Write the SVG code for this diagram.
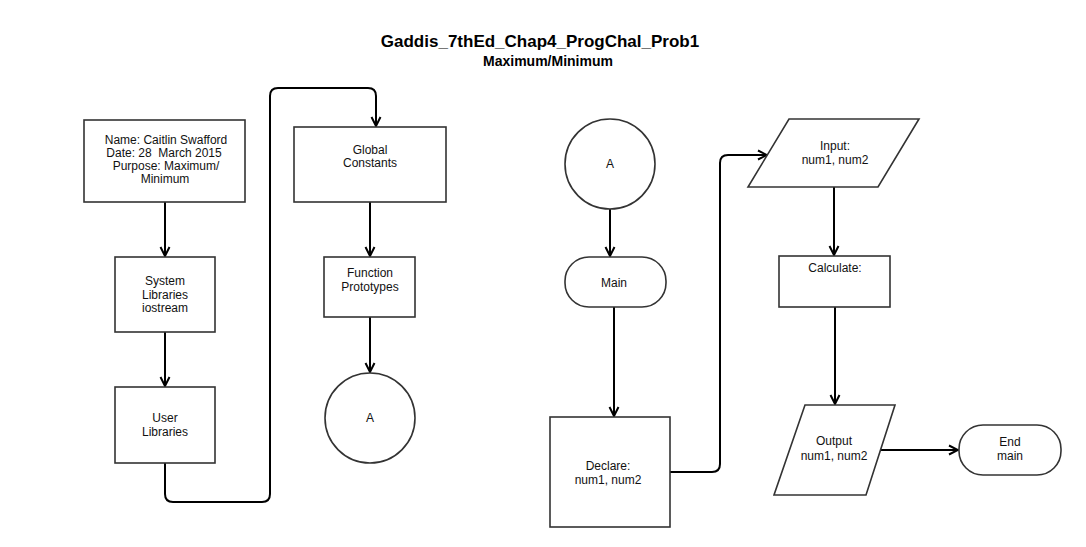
<svg xmlns="http://www.w3.org/2000/svg" width="1086" height="547" viewBox="0 0 1086 547">
<style>
.shape{fill:#fff;stroke:#333;stroke-width:1.6}
.conn{fill:none;stroke:#000;stroke-width:2}
text{font-family:"Liberation Sans",Arial,sans-serif;font-size:12px;fill:#111;text-anchor:middle;white-space:pre}
.title{font-size:17px;font-weight:bold;fill:#000}
.sub{font-size:14px;font-weight:bold;fill:#000}
</style>
<defs>
<marker id="arr" viewBox="0 0 12 12" refX="11" refY="6" markerWidth="12" markerHeight="12" markerUnits="userSpaceOnUse" orient="auto">
<path d="M2,1.5 L11,6 L2,10.5" fill="none" stroke="#000" stroke-width="2"/>
</marker>
</defs>
<rect width="1086" height="547" fill="#fff"/>
<g id="title">
<text class="title" x="540" y="47">Gaddis_7thEd_Chap4_ProgChal_Prob1</text>
<text class="sub" x="548" y="66">Maximum/Minimum</text>
</g>
<g id="connectors">
<path class="conn" d="M165,202 L165,256" marker-end="url(#arr)"/>
<path class="conn" d="M165,332 L165,386" marker-end="url(#arr)"/>
<path class="conn" d="M165,463 L165,494 Q165,502 173,502 L262,502 Q270,502 270,494 L270,96 Q270,88 278,88 L368,88 Q376,88 376,96 L376,126" marker-end="url(#arr)"/>
<path class="conn" d="M370,202 L370,256" marker-end="url(#arr)"/>
<path class="conn" d="M370,317 L370,372" marker-end="url(#arr)"/>
<path class="conn" d="M610,209 L610,256" marker-end="url(#arr)"/>
<path class="conn" d="M614,307 L614,416" marker-end="url(#arr)"/>
<path class="conn" d="M670,472 L712,472 Q720,472 720,464 L720,163 Q720,155 728,155 L767,155" marker-end="url(#arr)"/>
<path class="conn" d="M834,187 L834,255" marker-end="url(#arr)"/>
<path class="conn" d="M835,307 L835,404" marker-end="url(#arr)"/>
<path class="conn" d="M880,450 L958,450" marker-end="url(#arr)"/>
</g>
<g id="header">
<rect class="shape" x="84" y="120" width="161" height="82"/>
<text x="166" y="144">Name: Caitlin Swafford</text>
<text x="164" y="157">Date: 28  March 2015</text>
<text x="166" y="170">Purpose: Maximum/</text>
<text x="165" y="183">Minimum</text>
</g>
<g id="system-libraries">
<rect class="shape" x="115" y="257" width="100" height="75"/>
<text x="165" y="285">System</text>
<text x="165" y="299">Libraries</text>
<text x="165" y="312">iostream</text>
</g>
<g id="user-libraries">
<rect class="shape" x="115" y="387" width="100" height="76"/>
<text x="165" y="422">User</text>
<text x="165" y="436">Libraries</text>
</g>
<g id="global-constants">
<rect class="shape" x="294" y="127" width="152" height="75"/>
<text x="370" y="154">Global</text>
<text x="370" y="167">Constants</text>
</g>
<g id="function-prototypes">
<rect class="shape" x="324" y="257" width="91" height="60"/>
<text x="370" y="277">Function</text>
<text x="370" y="291">Prototypes</text>
</g>
<g id="connector-a-out">
<circle class="shape" cx="370" cy="418" r="45"/>
<text x="370" y="422">A</text>
</g>
<g id="connector-a-in">
<circle class="shape" cx="610" cy="164" r="45"/>
<text x="610" y="168">A</text>
</g>
<g id="main">
<rect class="shape" x="565" y="257" width="101" height="50" rx="24" ry="24"/>
<text x="614" y="287">Main</text>
</g>
<g id="declare">
<rect class="shape" x="550" y="417" width="120" height="110"/>
<text x="608" y="470">Declare:</text>
<text x="608" y="484">num1, num2</text>
</g>
<g id="input">
<polygon class="shape" points="789,119 919,119 878,187 748,187"/>
<text x="835" y="150">Input:</text>
<text x="835" y="164">num1, num2</text>
</g>
<g id="calculate">
<rect class="shape" x="779" y="256" width="111" height="51"/>
<text x="835" y="272">Calculate:</text>
</g>
<g id="output">
<polygon class="shape" points="805,405 895,405 866,495 774,495"/>
<text x="834" y="445">Output</text>
<text x="834" y="460">num1, num2</text>
</g>
<g id="end-main">
<rect class="shape" x="959" y="425" width="102" height="50" rx="24" ry="24"/>
<text x="1010" y="446">End</text>
<text x="1010" y="460">main</text>
</g>
</svg>
